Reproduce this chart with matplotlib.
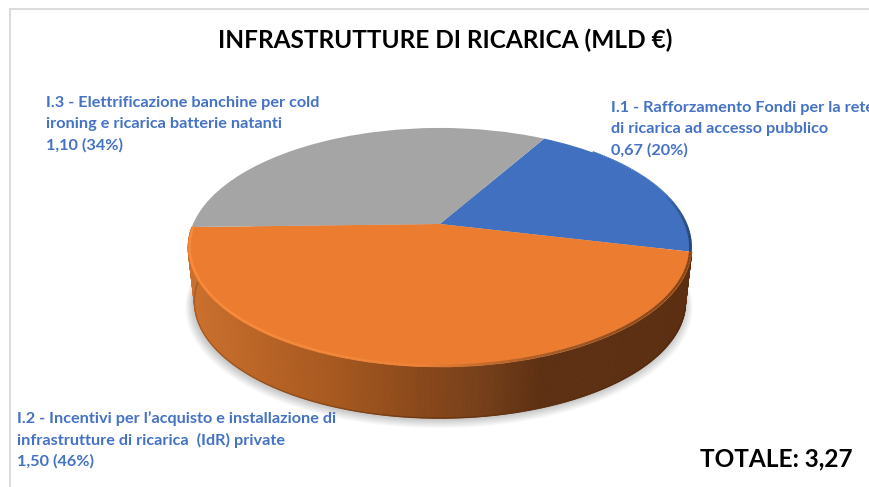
import numpy as np
import matplotlib
matplotlib.use("Agg")
import matplotlib.pyplot as plt
from matplotlib.collections import PolyCollection, LineCollection
from matplotlib.colors import to_rgb
from matplotlib.transforms import Transform

# --- data ---
labels = [
    ["I.1 - Rafforzamento Fondi per la rete", "di ricarica ad accesso pubblico", "0,67 (20%)"],
    ["I.2 - Incentivi per l\u2019acquisto e installazione di", "infrastrutture di ricarica  (IdR) private", "1,50 (46%)"],
    ["I.3 - Elettrificazione banchine per cold", "ironing e ricarica batterie natanti", "1,10 (34%)"],
]
values = [0.67, 1.50, 1.10]
colors = ["#4070BF", "#EC7C30", "#A5A5A5"]
title = "INFRASTRUTTURE DI RICARICA (MLD \u20ac)"
total = "TOTALE: 3,27"

# --- style / layout ---
W, H = 870, 487
CX, CY = 440.0, 224.0
A, B, K = 247.0, 115.0, 0.197
DEPTH, LOWER_SCALE = 54.5, 0.975
TEXT_BLUE = "#4472C4"
FONT = ["Lato", "DejaVu Sans"]


class Perspective(Transform):
    """Maps the unit pie disc to the tilted disc on screen."""
    input_dims = output_dims = 2
    is_affine = False

    def __init__(self, scale=1.0, dy=0.0, dx=0.0):
        super().__init__()
        self.scale, self.dy, self.dx = scale, dy, dx

    def transform_non_affine(self, values):
        v = np.asarray(values, float)
        w = 1 + K * v[:, 1]
        return np.column_stack([
            CX + self.dx + self.scale * A * v[:, 0] / w,
            CY + self.dy - self.scale * B * v[:, 1] / w,
        ])


def edge(theta_deg, tr):
    t = np.radians(theta_deg)
    return tr.transform_non_affine(np.column_stack([np.cos(t), np.sin(t)]))


def by_x(x, stops):
    xs = [s[0] for s in stops]
    rgb = np.array([to_rgb(s[1]) for s in stops])
    return np.column_stack([np.interp(x, xs, rgb[:, i]) for i in range(3)])


fig = plt.figure(figsize=(W / 100, H / 100), dpi=100, facecolor="white")
ax = fig.add_axes([0, 0, 1, 1])

wedges, _ = ax.pie(values, colors=colors, startangle=60.4, counterclock=False, radius=1.0)
ax.set_aspect("auto")
ax.set_xlim(0, W)
ax.set_ylim(H, 0)
ax.axis("off")

upper = Perspective()
lower = Perspective(LOWER_SCALE, DEPTH)

# soft shadow under the disc
all_t = np.linspace(0, 360, 240)
for i in range(9):
    shadow = Perspective(LOWER_SCALE + 0.0035 * (9 - i), DEPTH + 1 + 0.5 * (9 - i), dx=-1)
    ax.fill(*edge(all_t, shadow).T, color="black", alpha=0.022, lw=0, zorder=1)

# side wall of the visible slice, derived from the orange wedge's own angles
orange = wedges[1]
th = np.linspace(orange.theta1, orange.theta2, 260)
up, lo = edge(th, upper), edge(th, lower)
quads = [np.array([up[i], up[i + 1], lo[i + 1], lo[i]]) for i in range(len(th) - 1)]
mid_x = np.array([q[:, 0].mean() for q in quads])
side_stops = [(187, "#CC7230"), (260, "#BA6426"), (340, "#A5581F"), (420, "#8A481A"),
              (480, "#77401A"), (540, "#5E3013"), (692, "#5C2F12")]
cols = by_x(mid_x, side_stops)
ax.add_collection(PolyCollection(quads, facecolors=cols, edgecolors=cols, linewidths=0.6, zorder=2))

# dark line on the lower edge
seg = np.stack([lo[:-1], lo[1:]], axis=1)
ax.add_collection(LineCollection(seg, colors=by_x(mid_x, [(187, "#A85A22"), (440, "#6B3712"), (692, "#4E280F")]),
                                 linewidths=1.0, zorder=2.5))

# top face
for w in wedges:
    w.set_transform(upper + ax.transData)
    w.set_zorder(3)
    w.set_linewidth(0)
    w.set_clip_on(False)

# bevel on the rim of the top face
rim_stops = [(187, "#FA8C3C"), (300, "#F58A3C"), (420, "#EE8438"), (480, "#C46C2E"),
             (560, "#99582A"), (692, "#7A4018")]
rim_in = Perspective(0.994, -0.6)
rim = edge(th, rim_in)
seg = np.stack([rim[:-1], rim[1:]], axis=1)
ax.add_collection(LineCollection(seg, colors=by_x(mid_x, rim_stops), linewidths=1.8, zorder=4))

blue = wedges[0]
tb = np.linspace(blue.theta1, min(blue.theta2, 45), 80)
rb = edge(tb, rim_in)
fade = np.clip((rb[:-1, 0] - 665) / 27, 0, 1)[:, None]
base, dark = np.array(to_rgb(colors[0])), np.array(to_rgb("#24416F"))
ax.add_collection(LineCollection(np.stack([rb[:-1], rb[1:]], axis=1),
                                 colors=base * (1 - fade) + dark * fade, linewidths=2.0, zorder=4))

# chart frame
ax.plot([10, 10, W], [H, 9, 9], color="#DCDCDC", lw=1.5, zorder=0, solid_joinstyle="miter")

# text
ax.text(445, 40, title, ha="center", va="center", fontsize=17.6, fontweight="bold",
        family=FONT, color="black", zorder=6)
label_pos = [(611, [108, 129, 150]), (17, [419, 440, 461]), (46, [103, 124, 145])]
for lines, (x, ys) in zip(labels, label_pos):
    for line, y in zip(lines, ys):
        ax.text(x, y, line, ha="left", va="center", fontsize=11.7, fontweight="bold",
                family=FONT, color=TEXT_BLUE, zorder=6, clip_on=True)
ax.text(700, 459, total, ha="left", va="center", fontsize=17.6, fontweight="bold",
        family=FONT, color="black", zorder=6)

fig.savefig("out.png", dpi=100, facecolor="white")
